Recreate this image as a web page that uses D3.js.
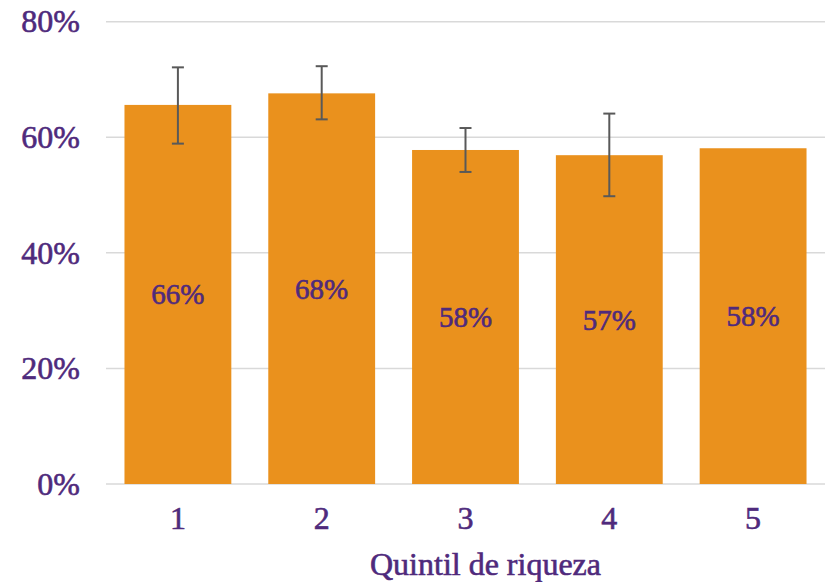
<!DOCTYPE html>
<html>
<head>
<meta charset="utf-8">
<script src="https://cdn.jsdelivr.net/npm/d3@7"></script>
<style>
  html, body { margin: 0; padding: 0; background: #fff; }
  svg { display: block; }
</style>
</head>
<body>
<div id="chart"></div>
<script>
const categories = ["1", "2", "3", "4", "5"];
const values = [65.6, 67.6, 57.8, 56.9, 58.1];
const errLow = [58.9, 63.1, 54.0, 49.8, null];
const errHigh = [72.1, 72.3, 61.6, 64.1, null];
const labels = ["66%", "68%", "58%", "57%", "58%"];
const yTicks = [0, 20, 40, 60, 80];
const xTitle = "Quintil de riqueza";

const W = 829, H = 582;
const margin = { left: 106, right: 4, top: 21.7, bottom: 98 };
const purple = "#4F2A7C";
const orange = "#EA911D";
const font = "'Liberation Serif', 'Times New Roman', serif";

const svg = d3.select("#chart").append("svg").attr("width", W).attr("height", H);

const x = d3.scaleBand().domain(categories).range([margin.left, W - margin.right]).paddingInner(0.257).paddingOuter(0.1285);
const y = d3.scaleLinear().domain([0, 80]).range([H - margin.bottom, margin.top]);

function styleText(sel, size) {
  sel.attr("fill", purple).attr("stroke", purple).attr("stroke-width", 0.6)
    .style("font-family", font).style("font-size", size + "px");
}

// gridlines
svg.append("g").selectAll("line").data(yTicks).join("line")
  .attr("x1", margin.left).attr("x2", W - margin.right)
  .attr("y1", d => y(d)).attr("y2", d => y(d))
  .attr("stroke", "#d9d9d9").attr("stroke-width", 1.5);

// y axis labels
const yAxis = d3.axisLeft(y).tickValues(yTicks).tickFormat(d => d + "%").tickSize(0).tickPadding(26);
const gy = svg.append("g").attr("transform", `translate(${margin.left},0)`).call(yAxis);
gy.select(".domain").remove();
styleText(gy.selectAll("text"), 32);

// bars
svg.append("g").selectAll("rect").data(values).join("rect")
  .attr("x", (d, i) => x(categories[i]))
  .attr("width", x.bandwidth())
  .attr("y", d => y(d))
  .attr("height", d => y(0) - y(d))
  .attr("fill", orange);

// x axis labels
const xAxis = d3.axisBottom(x).tickSize(0).tickPadding(22);
const gx = svg.append("g").attr("transform", `translate(0,${y(0)})`).call(xAxis);
gx.select(".domain").remove();
styleText(gx.selectAll("text"), 32);

// error bars
const eg = svg.append("g");
values.forEach((v, i) => {
  if (errLow[i] == null) return;
  const cx = x(categories[i]) + x.bandwidth() / 2;
  eg.append("line").attr("x1", cx).attr("x2", cx).attr("y1", y(errLow[i])).attr("y2", y(errHigh[i]))
    .attr("stroke", "#595959").attr("stroke-width", 2);
  [errLow[i], errHigh[i]].forEach(e => {
    eg.append("line").attr("x1", cx - 6).attr("x2", cx + 6).attr("y1", y(e)).attr("y2", y(e))
      .attr("stroke", "#595959").attr("stroke-width", 2);
  });
});

// value labels
const vl = svg.append("g").selectAll("text").data(values).join("text")
  .attr("x", (d, i) => x(categories[i]) + x.bandwidth() / 2)
  .attr("y", d => (y(d) + y(0)) / 2)
  .attr("text-anchor", "middle").attr("dominant-baseline", "central")
  .text((d, i) => labels[i]);
styleText(vl, 29);

// axis title
const t = svg.append("text")
  .attr("x", (margin.left + W - margin.right) / 2 + 20)
  .attr("y", 575)
  .attr("text-anchor", "middle")
  .text(xTitle);
styleText(t, 32);
</script>
</body>
</html>
